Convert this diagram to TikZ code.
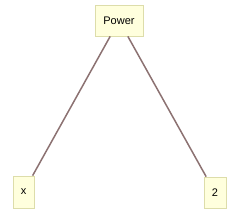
\documentclass[tikz,border=0pt]{standalone}
\usepackage{fontspec}
\setmainfont{Liberation Sans}
\definecolor{boxfill}{HTML}{FFFFDD}
\definecolor{boxline}{HTML}{DDDDAA}
\definecolor{edgecol}{HTML}{8C7272}
\begin{document}
\begin{tikzpicture}[x=1pt,y=-1pt,
  box/.style={draw=boxline, fill=boxfill, line width=0.8pt, inner sep=0pt, font=\fontsize{11}{12}\selectfont},
  edge/.style={draw=edgecol, line width=1.5pt}]
\useasboundingbox (0,0) rectangle (240,216);
\node[box, minimum width=48pt, minimum height=31pt] (p) at (119,20.5) {Power};
\node[box, minimum width=21pt, minimum height=32pt] (x) at (23.5,192) {x};
\node[box, minimum width=22pt, minimum height=31pt] (t) at (215,192.5) {2};
\draw[edge] (p) -- (x);
\draw[edge] (p) -- (t);
\end{tikzpicture}
\end{document}
